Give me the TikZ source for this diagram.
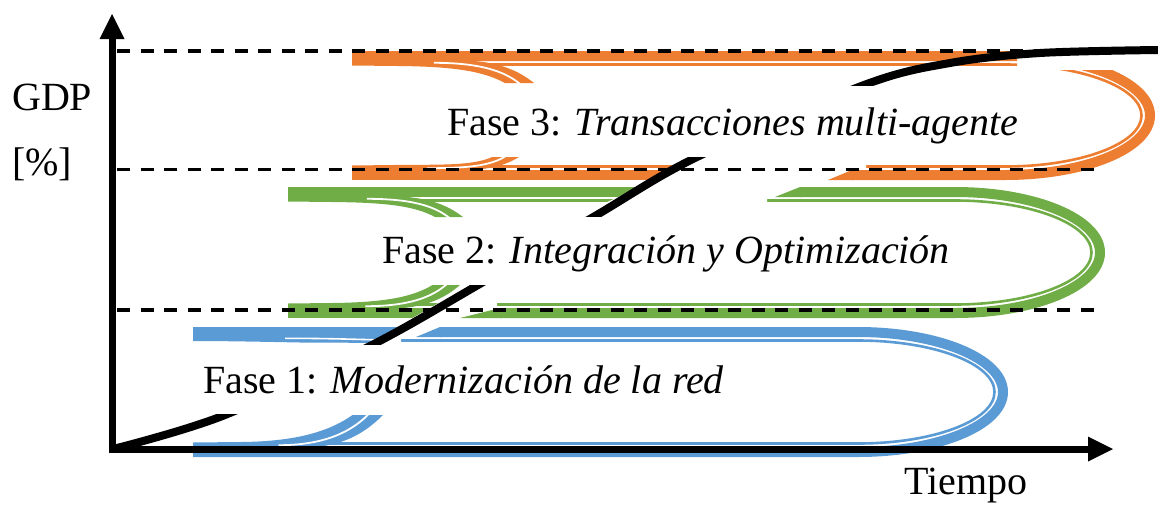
\documentclass[tikz,border=0pt]{standalone}
\usepackage{fontspec}
\setmainfont{Liberation Serif}
\definecolor{porange}{HTML}{ED7D31}
\definecolor{pgreen}{HTML}{70AD47}
\definecolor{pblue}{HTML}{5B9BD5}
% U-shaped band path: #1 top start x, #2 bottom end x, #3 yt, #4 yb, #5 xc, #6 rx, #7 offset
\newcommand{\Upath}[7]{(#1,{#3+#7}) -- (#5,{#3+#7}) .. controls ({#5+0.5523*(#6-#7)},{#3+#7}) and ({#5+#6-#7},{(#3+#4)/2-0.5523*((#4-#3)/2-#7)}) .. ({#5+#6-#7},{(#3+#4)/2}) .. controls ({#5+#6-#7},{(#3+#4)/2+0.5523*((#4-#3)/2-#7)}) and ({#5+0.5523*(#6-#7)},{#4-#7}) .. (#5,{#4-#7}) -- (#2,{#4-#7})}
% swoosh at left end of an arm: #1 xl, #2 outer edge y, #3 direction, #4 length, #5 height, #6 colour
\newcommand{\swoosh}[6]{%
 \fill[#6] (#1,{#2+(#3)*9}) -- ({#1+0.55*#4},{#2+(#3)*9}) .. controls ({#1+0.78*#4},{#2+(#3)*9}) and ({#1+0.9*#4},{#2+(#3)*0.55*#5}) .. ({#1+#4},{#2+(#3)*#5}) -- ({#1+0.84*#4},{#2+(#3)*#5}) .. controls ({#1+0.72*#4},{#2+(#3)*0.62*#5}) and ({#1+0.55*#4},{#2+(#3)*15.5}) .. ({#1+0.25*#4},{#2+(#3)*15}) -- (#1,{#2+(#3)*14.5}) -- cycle;
 \draw[white,line width=1.8pt] ({#1+0.45*#4},{#2+(#3)*11.8}) .. controls ({#1+0.7*#4},{#2+(#3)*11.8}) and ({#1+0.84*#4},{#2+(#3)*0.62*#5}) .. ({#1+0.93*#4},{#2+(#3)*(#5+2)});
}
\newcommand{\sCurve}{plot[smooth,tension=0.55] coordinates {(113,449) (225,415) (372,345) (478,285) (595,216) (697,157) (864,85) (950,63) (1040,53) (1158,50)}}
\tikzset{
 thickband/.style={line width=10pt},
 thinband/.style={line width=2.6pt},
 halo/.style={fill=white},
 guide/.style={black, line width=3.5pt, dash pattern=on 13pt off 10.5pt},
 gdpcurve/.style={black, line width=8pt},
 axisline/.style={black, line width=7pt},
 lbl/.style={inner sep=0pt, anchor=base west, font=\fontsize{40}{48}\selectfont}
}
\begin{document}
\begin{tikzpicture}[x=1pt,y=-1pt]
\useasboundingbox (0,0) rectangle (1158,504);

% ---------- blue band (Fase 1) ----------
\draw[pblue,thickband] \Upath{440}{193}{327}{457}{858}{150}{5};
\draw[pblue,thinband] \Upath{401}{330}{327}{457}{858}{150}{13.5};
\fill[pblue] (193,327) rectangle (400,337);
\fill[pblue] (193,336) -- (400,336) -- (400,343) -- (300,342.5) .. controls (250,341.5) and (220,341) .. (193,341) -- cycle;
\draw[white,line width=1.6pt] (285,338.3) .. controls (320,338.3) and (350,339) .. (400,340.6);
\swoosh{193}{457}{-1}{190}{42}{pblue}

% ---------- green band (Fase 2) ----------
\draw[pgreen,thickband] \Upath{800}{500}{187}{318}{955}{150}{5};
\draw[pgreen,thinband] \Upath{767}{497}{187}{318}{955}{150}{13.5};
\fill[pgreen] (288,187) rectangle (655,197);
\draw[pgreen,thinband] (418,200.5) -- (655,200.5);
\swoosh{288}{187}{1}{175}{30}{pgreen}
\fill[pgreen] (288,308) rectangle (452,318);
\draw[pgreen,thinband] (380,304.5) -- (452,304.5);
\swoosh{288}{318}{-1}{172}{33}{pgreen}

% ---------- orange band (Fase 3) ----------
\begin{scope}
\clip (0,0) rectangle (1017,504) (0,70) rectangle (1158,504);
\draw[porange,thickband] \Upath{352}{852}{51}{180}{1005}{150}{5};
\draw[porange,thinband] \Upath{482}{866}{51}{180}{1005}{150}{13.5};
\end{scope}
\swoosh{352}{51}{1}{182}{32}{porange}
\fill[porange] (352,170) rectangle (700,180);
\draw[porange,thinband] (440,166.5) -- (700,166.5);
\swoosh{352}{180}{-1}{167}{23}{porange}

% ---------- gaps where the curve passes ----------
\fill[halo] (372,343.5) -- (402,325.5) -- (440,325.5) -- (416,337.3) -- (401,337.3) -- (401,343.5) -- cycle;
\fill[halo] (410,319.5) -- (441,301.5) -- (497,301.5) -- (497,307.6) -- (460,318.4) -- (460,319.5) -- cycle;
\fill[halo] (605,203) -- (646,184.5) -- (800,184.5) -- (775,197.5) -- (767,197.5) -- (767,203) -- cycle;
\fill[halo] (650,181) -- (688,162) -- (866,162) -- (866,169) -- (852,169.6) -- (828,180.4) -- (828,181) -- cycle;
% restarting wedges
\fill[pblue] (416,337) -- (440,327) -- (442,327) -- (442,337) -- cycle;
\fill[pgreen] (460,318) -- (500,308) -- (502,308) -- (502,318) -- cycle;
\fill[pgreen] (775,197) -- (800,187) -- (802,187) -- (802,197) -- cycle;
\fill[porange] (828,180) -- (852,170) -- (854,170) -- (854,180) -- cycle;

% ---------- dashed guide lines ----------
\coordinate (g3a) at (117,51);   \coordinate (g3b) at (1125,51);
\coordinate (g2a) at (117,169.5); \coordinate (g2b) at (1097,169.5);
\coordinate (g1a) at (117,310);  \coordinate (g1b) at (1097,310);
\draw[guide] (g3a) -- (g3b);
\draw[guide] (g2a) -- (g2b);
\draw[guide] (g1a) -- (g1b);

% ---------- GDP curve (visible pieces) ----------
\begin{scope}\clip (100,414) rectangle (240,460); \draw[gdpcurve] \sCurve; \end{scope}
\begin{scope}\clip (340,285) rectangle (520,344); \draw[gdpcurve] \sCurve; \end{scope}
\begin{scope}\clip (560,157) rectangle (740,216); \draw[gdpcurve] \sCurve; \end{scope}
\begin{scope}\clip (820,30) rectangle (1158,85); \draw[gdpcurve] \sCurve; \end{scope}

% ---------- axes ----------
\coordinate (o) at (112,449);
\coordinate (ytop) at (112,36);
\coordinate (xend) at (1090,449);
\draw[axisline] (ytop) -- (o) -- (xend);
\fill[black] (99.5,39) -- (112,14) -- (124.5,39) -- cycle;
\fill[black] (1088,436.5) -- (1113,449) -- (1088,461.5) -- cycle;

% ---------- labels ----------
\node[lbl] (gdp) at (12,110) {GDP};
\node[lbl] (pct) at (12,175) {[\%]};
\node[lbl] (tiempo) at (904,494) {Tiempo};
\node[lbl] (f3) at (447,135) {Fase 3: \textit{Transacciones multi-agente}};
\node[lbl] (f2) at (382,263) {Fase 2: \textit{Integración y Optimización}};
\node[lbl] (f1) at (203,393) {Fase 1: \textit{Modernización de la red}};
\end{tikzpicture}
\end{document}
